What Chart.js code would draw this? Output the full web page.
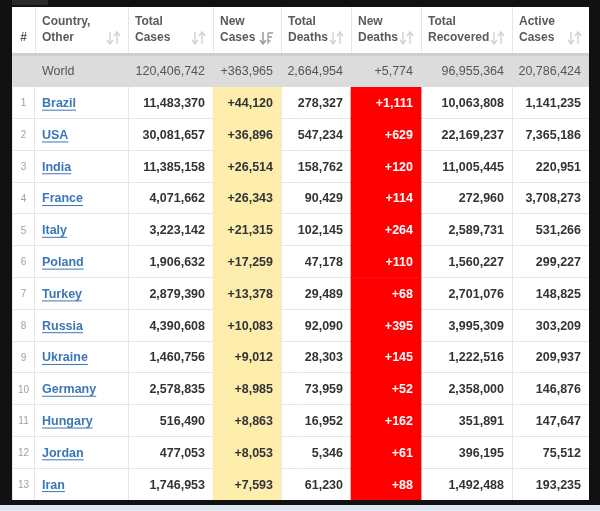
<!DOCTYPE html>
<html>
<head>
<meta charset="utf-8">
<script src="https://cdn.jsdelivr.net/npm/chart.js@4.4.1/dist/chart.umd.min.js"></script>
<style>
  html, body { margin: 0; padding: 0; width: 600px; height: 511px; overflow: hidden; background: #111; }
  #wrap { position: absolute; left: 12px; top: 7px; width: 577px; height: 493px; background: #fff; }
  #strip { position: absolute; left: 0; top: 505px; width: 600px; height: 6px; background: #dde8f2; }
  #tab { position: absolute; left: 12px; top: 0; width: 36px; height: 5px; background: #2a2a2a; }
</style>
</head>
<body>
<div id="tab"></div>
<div id="wrap"><canvas id="tbl" width="577" height="493"></canvas></div>
<div id="strip"></div>
<script>
// table data
const countries = ['Brazil', 'USA', 'India', 'France', 'Italy', 'Poland', 'Turkey', 'Russia', 'Ukraine', 'Germany', 'Hungary', 'Jordan', 'Iran'];
const totalCases = [11483370, 30081657, 11385158, 4071662, 3223142, 1906632, 2879390, 4390608, 1460756, 2578835, 516490, 477053, 1746953];
const newCases = [44120, 36896, 26514, 26343, 21315, 17259, 13378, 10083, 9012, 8985, 8863, 8053, 7593];
const totalDeaths = [278327, 547234, 158762, 90429, 102145, 47178, 29489, 92090, 28303, 73959, 16952, 5346, 61230];
const newDeaths = [1111, 629, 120, 114, 264, 110, 68, 395, 145, 52, 162, 61, 88];
const totalRecovered = [10063808, 22169237, 11005445, 272960, 2589731, 1560227, 2701076, 3995309, 1222516, 2358000, 351891, 396195, 1492488];
const activeCases = [1141235, 7365186, 220951, 3708273, 531266, 299227, 148825, 303209, 209937, 146876, 147647, 75512, 193235];
const world = [120406742, 363965, 2664954, 5774, 96955364, 20786424];
const headers = [['#'], ['Country,', 'Other'], ['Total', 'Cases'], ['New', 'Cases'], ['Total', 'Deaths'], ['New', 'Deaths'], ['Total', 'Recovered'], ['Active', 'Cases']];

// column edges (table px)
const colEdges = [0, 23, 116, 201, 269, 339, 409, 500, 577];
const headerH = 48;
const FONT = '"Liberation Sans", Arial, sans-serif';

const rowLabels = ['World'].concat(countries);
const fmt = n => n.toLocaleString('en-US');

// cell backgrounds as floating bars
const worldBg = rowLabels.map((r, i) => i === 0 ? [colEdges[0], colEdges[8]] : null);
const yellowBg = rowLabels.map((r, i) => i === 0 ? null : [colEdges[3], colEdges[4]]);
const redBg = rowLabels.map((r, i) => i === 0 ? null : [colEdges[5], colEdges[6]]);

function drawSortIcon(ctx, xr, y, active) {
  ctx.save();
  ctx.strokeStyle = active ? '#9a9a9a' : '#d4d4d4';
  ctx.fillStyle = ctx.strokeStyle;
  ctx.lineWidth = 1.5;
  const x1 = xr - 12, x2 = xr - 5;
  // down arrow
  ctx.beginPath(); ctx.moveTo(x1, y - 6); ctx.lineTo(x1, y + 5); ctx.stroke();
  ctx.beginPath(); ctx.moveTo(x1 - 3, y + 2); ctx.lineTo(x1, y + 6); ctx.lineTo(x1 + 3, y + 2); ctx.stroke();
  if (active) {
    ctx.lineWidth = 1.3;
    ctx.beginPath();
    ctx.moveTo(x2 - 2, y - 5); ctx.lineTo(x2 + 3, y - 5);
    ctx.moveTo(x2 - 2, y - 1); ctx.lineTo(x2 + 2, y - 1);
    ctx.moveTo(x2 - 2, y + 3); ctx.lineTo(x2 + 0.5, y + 3);
    ctx.moveTo(x2 - 2, y - 5); ctx.lineTo(x2 - 2, y + 6);
    ctx.stroke();
  } else {
    ctx.beginPath(); ctx.moveTo(x2, y + 6); ctx.lineTo(x2, y - 5); ctx.stroke();
    ctx.beginPath(); ctx.moveTo(x2 - 3, y - 2); ctx.lineTo(x2, y - 6); ctx.lineTo(x2 + 3, y - 2); ctx.stroke();
  }
  ctx.restore();
}

const tablePlugin = {
  id: 'tableText',
  afterDraw(chart) {
    const ctx = chart.ctx;
    const xs = chart.scales.x, ys = chart.scales.y;
    const top = chart.chartArea.top;
    const X = v => xs.getPixelForValue(v);

    ctx.save();
    // header vertical lines
    ctx.strokeStyle = '#e6e6e6';
    ctx.lineWidth = 1;
    colEdges.slice(1, 8).forEach(e => {
      ctx.beginPath(); ctx.moveTo(Math.round(X(e)) + 0.5, 0); ctx.lineTo(Math.round(X(e)) + 0.5, top); ctx.stroke();
    });
    // header bottom border
    ctx.fillStyle = '#cfcfcf';
    ctx.fillRect(0, top - 2, chart.width, 3);

    // header text
    ctx.fillStyle = '#5a5a5a';
    ctx.font = 'bold 12px ' + FONT;
    ctx.textBaseline = 'middle';
    headers.forEach((h, c) => {
      const xl = X(colEdges[c]);
      if (c === 0) {
        ctx.textAlign = 'center';
        ctx.fillText(h[0], (xl + X(colEdges[1])) / 2, 31);
        return;
      }
      ctx.textAlign = 'left';
      ctx.fillText(h[0], xl + 7, 15);
      ctx.fillText(h[1], xl + 7, 31);
      drawSortIcon(ctx, X(colEdges[c + 1]) - 6, 31, c === 3);
    });

    // body text
    const numCols = [totalCases, newCases, totalDeaths, newDeaths, totalRecovered, activeCases];
    rowLabels.forEach((label, i) => {
      const y = ys.getPixelForValue(i) + 1;
      if (i === 0) {
        ctx.font = '12.5px ' + FONT;
        ctx.fillStyle = '#555';
        ctx.textAlign = 'left';
        ctx.fillText(label, X(colEdges[1]) + 7, y);
        ctx.textAlign = 'right';
        world.forEach((v, c) => {
          const txt = (c === 1 || c === 3) ? '+' + fmt(v) : fmt(v);
          ctx.fillText(txt, X(colEdges[c + 3]) - 8, y);
        });
        return;
      }
      const k = i - 1;
      // row number
      ctx.font = '10px ' + FONT;
      ctx.fillStyle = '#a0a0a0';
      ctx.textAlign = 'center';
      ctx.fillText(String(i), (X(colEdges[0]) + X(colEdges[1])) / 2, y);
      // country link
      ctx.font = 'bold 12.5px ' + FONT;
      ctx.fillStyle = '#3a77b7';
      ctx.textAlign = 'left';
      const xl = X(colEdges[1]) + 7;
      ctx.fillText(label, xl, y);
      const w = ctx.measureText(label).width;
      ctx.fillRect(xl, y + 6, w, 1);
      // numbers
      ctx.textAlign = 'right';
      numCols.forEach((arr, c) => {
        const txt = (c === 1 || c === 3) ? '+' + fmt(arr[k]) : fmt(arr[k]);
        ctx.fillStyle = c === 3 ? '#fff' : '#333';
        ctx.fillText(txt, X(colEdges[c + 3]) - 8, y);
      });
    });
    ctx.restore();
  }
};

const barOpts = { barPercentage: 1, categoryPercentage: 1, grouped: false, borderWidth: 0, borderSkipped: false };

new Chart(document.getElementById('tbl').getContext('2d'), {
  type: 'bar',
  data: {
    labels: rowLabels,
    datasets: [
      Object.assign({ data: worldBg, backgroundColor: '#dcdcdc' }, barOpts),
      Object.assign({ data: yellowBg, backgroundColor: '#fdeeae' }, barOpts),
      Object.assign({ data: redBg, backgroundColor: '#ff0000' }, barOpts)
    ]
  },
  options: {
    responsive: false,
    animation: false,
    indexAxis: 'y',
    layout: { padding: { top: headerH, left: 0, right: 0, bottom: 0 } },
    plugins: { legend: { display: false }, tooltip: { enabled: false } },
    scales: {
      x: {
        type: 'linear',
        min: colEdges[0],
        max: colEdges[8],
        afterBuildTicks: s => { s.ticks = colEdges.map(v => ({ value: v })); },
        ticks: { display: false },
        border: { display: false },
        grid: { color: '#e6e6e6', drawTicks: false }
      },
      y: {
        type: 'category',
        offset: true,
        ticks: { display: false },
        border: { display: false },
        grid: { color: '#e6e6e6', drawTicks: false, offset: true }
      }
    }
  },
  plugins: [tablePlugin]
});
</script>
</body>
</html>
